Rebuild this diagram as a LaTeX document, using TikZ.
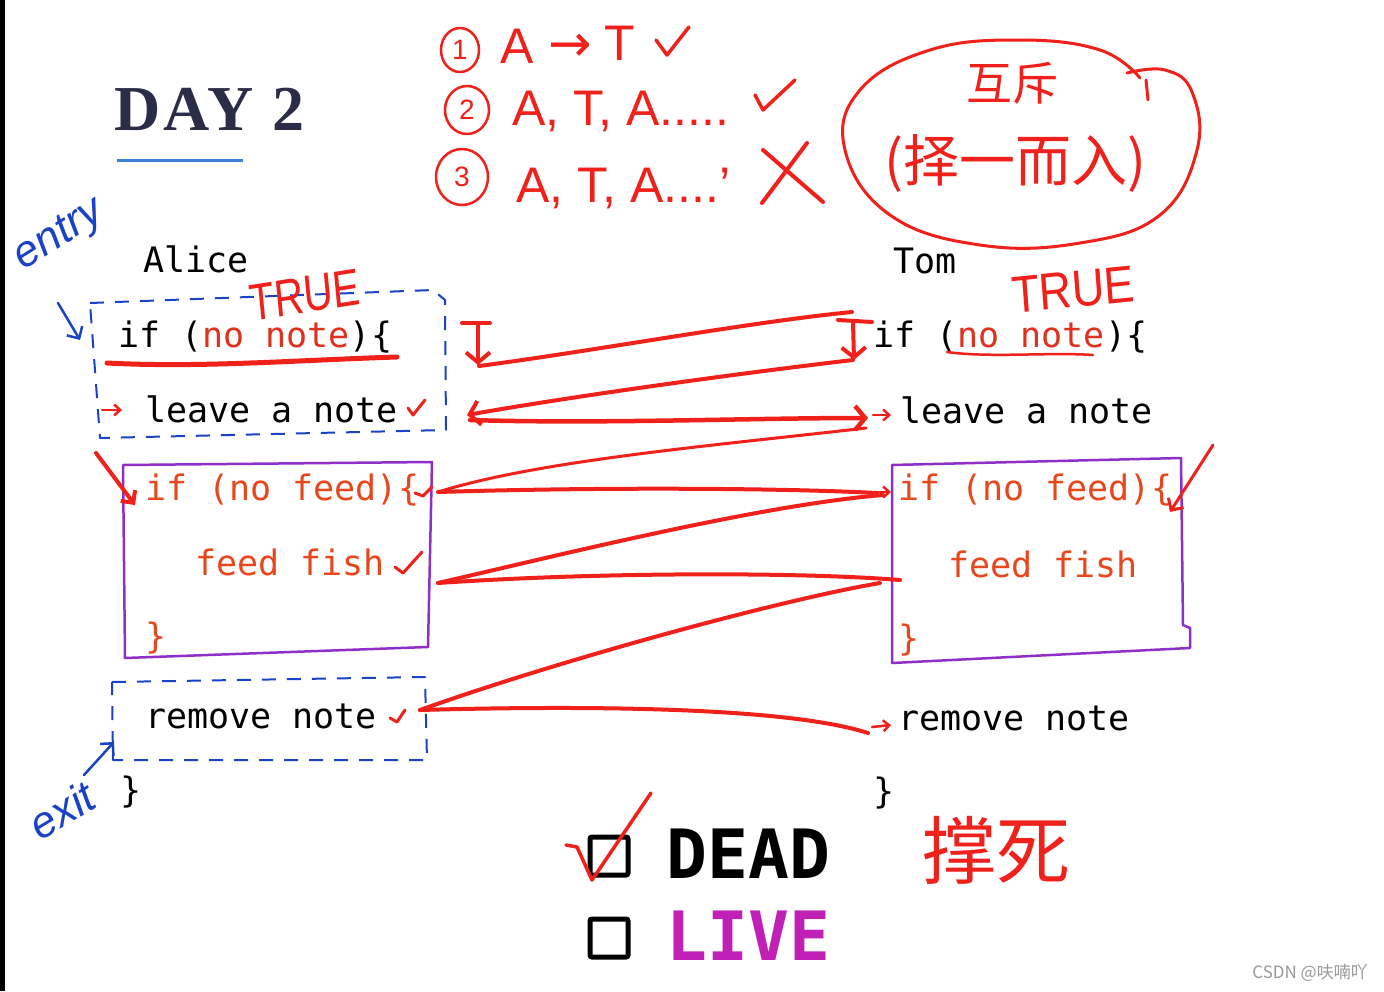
\documentclass[tikz,border=0pt]{standalone}
\usepackage{fontspec}
\setmainfont{Liberation Sans}
\newfontfamily\mono{DejaVu Sans Mono}
\newfontfamily\serifb[LetterSpace=5]{Liberation Serif}
\newfontfamily\cjk{Noto Sans CJK SC}
\newfontfamily\dvs{DejaVu Sans}
\usetikzlibrary{arrows.meta}
\definecolor{inkred}{HTML}{F0201A}
\definecolor{codered}{HTML}{E0301E}
\definecolor{feedor}{HTML}{E8461C}
\definecolor{boxpur}{HTML}{8E2FC8}
\definecolor{inkblue}{HTML}{1A42C6}
\definecolor{navy}{HTML}{2A2C48}
\definecolor{ulblue}{HTML}{3A80DA}
\definecolor{livemag}{HTML}{C020B6}
\begin{document}
\begin{tikzpicture}[x=1pt,y=-1pt,
  codetxt/.style={font=\mono\fontsize{35}{40}\selectfont, anchor=base west, inner sep=0pt, text=black},
  feedtxt/.style={codetxt, text=feedor},
  redink/.style={draw=inkred, line width=4pt, line cap=round, line join=round},
  thinink/.style={draw=inkred, line width=2.5pt, line cap=round, line join=round},
  redtip/.style={-{Straight Barb[length=9pt,width=18pt]}},
  bigtip/.style={-{Straight Barb[length=10pt,width=24pt]}},
  smalltip/.style={-{Straight Barb[length=6pt,width=11pt]}},
  handtxt/.style={font=\fontsize{50}{55}\selectfont, text=inkred, anchor=base west, inner sep=0pt},
  digit/.style={font=\fontsize{28}{30}\selectfont, text=inkred, inner sep=0pt},
  bluetxt/.style={font=\itshape\fontsize{44}{48}\selectfont, text=inkblue, inner sep=0pt},
  truetxt/.style={font=\fontsize{52}{56}\selectfont, text=inkred, inner sep=0pt},
  blueink/.style={draw=inkblue, line width=2.5pt, line cap=round},
  bluedash/.style={draw=inkblue, line width=2pt, dash pattern=on 14pt off 11pt, line join=round},
  purbox/.style={draw=boxpur, line width=2.5pt, line join=round},
  chk/.style={draw=inkred, line width=3.5pt, line cap=round, line join=round},
  cbox/.style={draw=black, line width=5pt, rounded corners=2pt, minimum size=38pt, inner sep=0pt},
]
\useasboundingbox (0,0) rectangle (1384,991);
\fill[white] (0,0) rectangle (1384,991);
\fill[black] (0,0) rectangle (5,991);

% title
\node[font=\serifb\bfseries\fontsize{64}{70}\selectfont, text=navy, anchor=base west, inner sep=0pt] (day) at (114,130) {DAY 2};
\draw[ulblue, line width=3pt] (117,160) -- (243,160);

% top annotations
\draw[thinink] (460,50) ellipse (19pt and 22pt);
\node[digit] (n1) at (460,50) {1};
\node[handtxt] (a1) at (500,63) {A};
\node[handtxt, font=\dvs\fontsize{52}{56}\selectfont] (ar1) at (548,61) {→};
\node[handtxt] (t1) at (604,60) {T};
\draw[chk] (656,40) -- (667,55) -- (689,27);

\draw[thinink] (467,110) ellipse (22pt and 24pt);
\node[digit] (n2) at (467,110) {2};
\node[handtxt] (row2) at (512,125) {A, T, A.....};
\draw[chk] (755,95) -- (763,110) -- (795,80);

\draw[thinink] (462,177) ellipse (26pt and 28pt);
\node[digit] (n3) at (462,177) {3};
\node[handtxt] (row3) at (516,202) {A, T, A....'};
\draw[chk, line width=4pt] (763,150) -- (823,202);
\draw[chk, line width=4pt] (807,143) -- (762,203);

% ellipse with chinese
\draw[thinink, line width=3pt] plot[smooth, tension=0.7] coordinates {(1127,73) (1165,70) (1192,92) (1197,150) (1160,215) (1080,243) (980,245) (890,215) (845,150) (860,90) (930,50) (1020,40) (1100,50) (1140,78)};
\draw[thinink, line width=3pt] (1146,80) -- (1148,100);
\node[font=\cjk\fontsize{46}{50}\selectfont, text=inkred] (huchi) at (1012,83) {互斥};
\node[font=\cjk\fontsize{56}{60}\selectfont, text=inkred] (zeyi) at (1015,163) {(择一而入)};

% blue annotations
\node[bluetxt, rotate=32] (entry) at (60,236) {entry};
\node[bluetxt, rotate=31] (exit) at (62,810) {exit};
\draw[blueink, redtip] (58,303) -- (80,340);
\draw[blueink, redtip] (84,775) -- (114,742);
\draw[bluedash] (90,303) -- (433,290) -- (445,300) -- (446,430) -- (100,438) -- cycle;
\draw[bluedash] (112,682) -- (425,677) -- (427,760) -- (113,760) -- cycle;

% purple boxes
\draw[purbox] (123,465) -- (432,462) -- (428,647) -- (125,658) -- cycle;
\draw[purbox] (892,465) -- (1181,458) -- (1183,625) -- (1190,628) -- (1190,648) -- (892,663) -- cycle;

% code left
\node[codetxt] (alice) at (143,272) {Alice};
\node[codetxt] (lif) at (118,347) {if (\textcolor{codered}{no note})\{};
\node[codetxt] (lleave) at (145,422) {leave a note};
\node[feedtxt] (lfif) at (145,500) {if (no feed)\{};
\node[feedtxt] (lfish) at (195,575) {feed fish};
\node[feedtxt] (lfend) at (145,648) {\}};
\node[codetxt] (lrem) at (145,728) {remove note};
\node[codetxt] (lend) at (120,802) {\}};

% code right
\node[codetxt] (tom) at (893,273) {Tom};
\node[codetxt] (rif) at (873,347) {if (\textcolor{codered}{no note})\{};
\node[codetxt] (rleave) at (900,423) {leave a note};
\node[feedtxt] (rfif) at (898,500) {if (no feed)\{};
\node[feedtxt] (rfish) at (948,577) {feed fish};
\node[feedtxt] (rfend) at (898,650) {\}};
\node[codetxt] (rrem) at (898,730) {remove note};
\node[codetxt] (rend) at (873,803) {\}};

% TRUE labels and underlines
\node[truetxt, xscale=0.78, rotate=7] (ltrue) at (305,295) {TRUE};
\node[truetxt, xscale=0.87, rotate=5] (rtrue) at (1073,290) {TRUE};
\draw[redink, line width=5pt] (107,363) .. controls (200,368) and (300,360) .. (397,357);
\draw[thinink] (947,352) .. controls (990,358) and (1050,352) .. (1093,355);

% small arrows and checks
\draw[thinink, smalltip] (102,410) -- (122,410);
\draw[chk, line width=3pt] (408,408) -- (413,415) -- (425,400);
\draw[chk, line width=3pt] (415,493) -- (423,496) -- (432,487);
\draw[chk, line width=3pt] (395,567) -- (403,573) -- (422,552);
\draw[chk, line width=3pt] (390,718) -- (397,722) -- (405,710);
\draw[redink, redtip] (96,453) -- (135,505);
\draw[thinink, line width=3pt, redtip] (1213,445) -- (1170,512);

% T arrows
\draw[redink] (462,323) -- (490,323);
\draw[redink, bigtip] (478,323) -- (478,365);
\draw[redink] (838,320) -- (872,322);
\draw[redink, bigtip] (853,321) -- (854,360);

% zigzag
\coordinate (pA1) at (479,366);
\coordinate (pA2) at (852,312);
\coordinate (pB1) at (853,360);
\coordinate (pB2) at (467,415);
\coordinate (pC1) at (470,420);
\coordinate (pC2) at (868,418);
\coordinate (pD1) at (866,428);
\coordinate (pD2) at (438,492);
\coordinate (pE2) at (877,493);
\coordinate (pF1) at (883,495);
\coordinate (pF2) at (438,583);
\coordinate (pG2) at (900,580);
\coordinate (pH1) at (880,583);
\coordinate (pH2) at (420,710);
\coordinate (pI2) at (868,733);
\draw[redink] (pA1) .. controls (600,350) and (750,322) .. (pA2);
\draw[redink, bigtip] (pB1) .. controls (750,372) and (580,395) .. (pB2);
\draw[redink, line width=4.5pt, bigtip] (pC1) .. controls (600,424) and (750,418) .. (pC2);
\draw[thinink, line width=3pt] (pD1) .. controls (720,445) and (540,460) .. (pD2);
\draw[redink] (pD2) .. controls (600,487) and (780,488) .. (pE2);
\draw[redink] (pF1) .. controls (760,505) and (560,555) .. (pF2);
\draw[redink] (pF2) .. controls (600,572) and (800,572) .. (pG2);
\draw[redink] (pH1) .. controls (780,600) and (560,660) .. (pH2);
\draw[redink] (pH2) .. controls (600,705) and (790,708) .. (pI2);
\draw[thinink, smalltip] (873,415) -- (891,415);
\draw[thinink, smalltip] (877,492) -- (891,492);
\draw[thinink, smalltip] (872,727) -- (891,725);

% DEAD / LIVE
\node[cbox] (bdead) at (609,856) {};
\node[cbox] (blive) at (609,938) {};
\node[font=\mono\bfseries\fontsize{68}{72}\selectfont, anchor=base west, inner sep=0pt] (dead) at (666,878) {DEAD};
\node[font=\mono\bfseries\fontsize{68}{72}\selectfont, anchor=base west, inner sep=0pt, text=livemag] (live) at (666,960) {LIVE};
\draw[chk] (566,845) -- (577,847) -- (592,880) -- (651,793);
\node[font=\cjk\fontsize{74}{78}\selectfont, text=inkred] (chengsi) at (996,850) {撑死};

% watermark
\node[font=\cjk\fontsize{17}{19}\selectfont, text=black!40, anchor=base east, inner sep=0pt] (wm) at (1368,978) {CSDN @呋喃吖};
\end{tikzpicture}
\end{document}
